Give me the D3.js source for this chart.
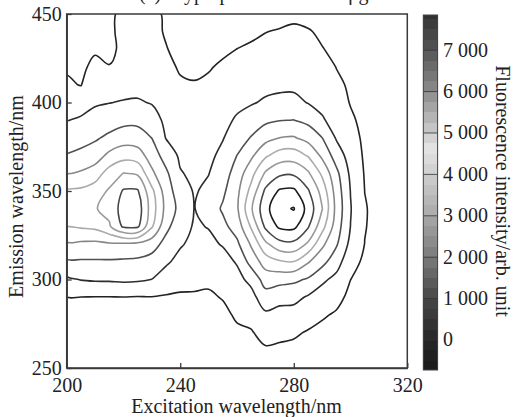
<!DOCTYPE html>
<html><head><meta charset="utf-8">
<script src="https://cdn.jsdelivr.net/npm/d3@7"></script>
<style>
html,body{margin:0;padding:0;background:#fff;}
svg{display:block;}
text{font-family:"Liberation Serif","Times New Roman",serif;fill:#222;}
</style>
</head><body>
<svg id="chart" width="514" height="417"></svg>
<script>
// ---------- data ----------
const chartTitle = "(a) Tryptophan solution 5 \u03bcg/L";
const xTitle = "Excitation wavelength/nm";
const yTitle = "Emission wavelength/nm";
const colorbarTitle = "Fluorescence intensity/arb. unit";

const excitation = [200,205,210,215,220,225,230,235,240,245,250,255,260,265,270,275,280,285,290,295,300,305,310,315,320];
const emission = [450,440,430,420,410,400,390,380,370,360,350,340,330,320,310,300,290,280,270,260,250];

// intensity: one array per excitation wavelength, values from Em 450 down to Em 250
const intensityByExcitation = [
  [200,250,420,440,570,930,1270,1690,2150,2830,3800,4300,3700,2790,1980,1160,490,300,200,150,100],
  [250,300,350,420,480,900,1420,1820,2300,3000,3850,4350,3800,2750,2000,1330,490,300,200,150,100],
  [250,320,450,600,920,1210,1590,2000,2510,3300,4100,4450,3900,2710,2010,1390,480,300,200,150,100],
  [300,400,380,520,910,1280,1730,2260,3100,4040,4600,4750,4400,2800,2000,1400,480,300,220,150,100],
  [750,650,620,700,1000,1350,1870,2520,3400,4520,5380,5650,5420,2770,1970,1450,490,320,230,160,100],
  [720,680,650,750,1050,1380,1890,2480,3270,4390,5380,5750,5450,2700,1940,1410,460,320,230,160,100],
  [650,620,600,680,950,1250,1665,2090,2530,3060,3900,4100,3800,2430,1790,1290,480,320,230,160,110],
  [420,460,520,620,815,970,1120,1270,1757,2250,2500,2650,2300,1850,1420,927,430,300,230,160,110],
  [300,330,380,450,560,720,870,1020,1180,1350,1650,1850,1650,1380,1060,700,420,300,230,160,110],
  [280,320,370,440,520,700,820,950,1080,1150,1240,1280,1220,1100,950,650,430,300,230,160,110],
  [250,300,380,470,570,720,850,980,1120,1280,1450,1650,1330,1150,950,620,400,290,220,160,110],
  [250,330,430,560,780,980,1120,1260,1500,1720,1950,2200,1890,1350,1050,800,540,330,240,170,120],
  [250,380,505,640,920,1150,1380,1720,2110,2450,2700,2780,2450,1940,1360,1080,840,600,380,250,150],
  [260,420,560,800,1020,1240,1650,2150,2750,3420,3950,4400,3800,3000,2400,1500,1050,750,440,280,160],
  [300,490,620,906,1120,1388,1940,2630,3570,4600,5450,5850,5450,4320,3250,2460,1750,1163,770,400,200],
  [320,540,660,950,1150,1478,2070,2910,4067,5130,6200,6700,6250,5040,3596,2367,1540,1049,690,350,180],
  [400,580,700,970,1160,1485,2110,2970,4118,5170,6250,6950,6300,5096,3680,2264,1510,1010,600,320,170],
  [330,540,650,900,1090,1270,1900,2630,3642,4628,5400,5830,5400,4377,2970,2010,1220,820,440,260,150],
  [280,420,520,720,920,1120,1373,2110,2740,3550,4200,4530,4000,3070,2360,1440,960,580,320,200,130],
  [220,300,400,490,600,850,1040,1230,1736,2300,2550,2660,2500,2200,1608,1100,710,420,260,170,120],
  [180,230,290,360,430,460,620,800,960,1150,1280,1340,1290,1080,800,505,330,220,160,120,90],
  [140,170,200,220,240,250,300,350,400,450,495,540,530,490,350,250,200,150,120,100,80],
  [110,130,150,170,190,200,220,240,260,280,300,320,310,280,220,170,130,110,90,80,70],
  [80,90,100,120,130,140,150,170,180,190,200,210,200,180,150,120,100,80,70,60,50],
  [60,70,80,90,100,100,110,120,130,140,140,150,140,130,110,90,70,60,50,50,40]
];

const contourLevels = [500,1300,2100,2900,3700,4500,5300,6100,6900];
const xTicks = [200,240,280,320];
const yTicks = [250,300,350,400,450];
const colorbarTicks = [0,1000,2000,3000,4000,5000,6000,7000];
const colorbarDomain = [-725,7850];

// ---------- layout ----------
const svg = d3.select("#chart");
const plot = {left:66.7, right:407.3, top:14, bottom:368};
const x = d3.scaleLinear().domain([200,320]).range([plot.left, plot.right]);
const y = d3.scaleLinear().domain([250,450]).range([plot.bottom, plot.top]);

svg.append("rect").attr("width",514).attr("height",417).attr("fill","#fff");

// title (cut by the top edge, as in the original)
svg.append("text").attr("x",139).attr("y",0).attr("font-size",20).text(chartTitle);

svg.append("defs").append("clipPath").attr("id","plotClip")
  .append("rect").attr("x",plot.left).attr("y",plot.top)
  .attr("width",plot.right-plot.left).attr("height",plot.bottom-plot.top);

// ---------- contours ----------
const nx = excitation.length, ny = emission.length;
const grid = new Array(nx*ny);
for (let j=0;j<ny;j++) for (let i=0;i<nx;i++) grid[j*nx+i] = intensityByExcitation[i][j];
const exStep = excitation[1]-excitation[0];
const emStep = emission[1]-emission[0];
const contours = d3.contours().size([nx,ny]).thresholds(contourLevels)(grid);
const toXY = p => [x(excitation[0]+(p[0]-0.5)*exStep), y(emission[0]+(p[1]-0.5)*emStep)];
const ringLine = d3.line().curve(d3.curveCatmullRomClosed.alpha(0.5));
const contourPath = c => c.coordinates
  .flatMap(poly => poly.map(ring => ringLine(ring.slice(0,-1).map(toXY)))).join("");
const lineGray = d3.scaleLinear().domain(contourLevels)
  .range(["#232323","#2c2c2c","#505050","#868686","#ababab","#9a9a9a","#474747","#1c1c1c","#1c1c1c"]);

svg.append("g").attr("clip-path","url(#plotClip)")
  .selectAll("path").data(contours).join("path")
  .attr("d",contourPath).attr("fill","none")
  .attr("stroke",d=>lineGray(d.value)).attr("stroke-width",1.6)
  .attr("stroke-linejoin","round");

// ---------- frame & axes ----------
svg.append("rect").attr("x",plot.left).attr("y",plot.top)
  .attr("width",plot.right-plot.left).attr("height",plot.bottom-plot.top)
  .attr("fill","none").attr("stroke","#3a3a3a").attr("stroke-width",1.5);

const xAxis = svg.append("g").attr("transform",`translate(0,${plot.bottom})`)
  .call(d3.axisBottom(x).tickValues(xTicks).tickSizeInner(-5).tickSizeOuter(0).tickPadding(10));
const yAxis = svg.append("g").attr("transform",`translate(${plot.left},0)`)
  .call(d3.axisLeft(y).tickValues(yTicks).tickSizeInner(-5).tickSizeOuter(0).tickPadding(5));
[xAxis,yAxis].forEach(a=>{
  a.select(".domain").attr("stroke","#3a3a3a").attr("stroke-width",1.5);
  a.selectAll(".tick line").attr("stroke","#3a3a3a").attr("stroke-width",1.3);
  a.selectAll(".tick text").attr("font-family","Liberation Serif, serif").attr("font-size",20).attr("fill","#222");
});

svg.append("text").attr("x",236.5).attr("y",413).attr("text-anchor","middle")
  .attr("font-size",20).text(xTitle);
svg.append("text").attr("transform","translate(23,196.5) rotate(-90)").attr("text-anchor","middle")
  .attr("font-size",20).text(yTitle);

// ---------- colorbar ----------
const cb = {x:423.3, w:14.3};
const cbY = d3.scaleLinear().domain(colorbarDomain).range([370,15]);
const cbColor = d3.scaleLinear()
  .domain([-725,0,1000,2000,3000,4000,4600,5000,6000,7000,7850])
  .range(["#191919","#262626","#474747","#7a7a7a","#a9a9a9","#cdcdcd","#e3e3e3","#cccccc","#8c8c8c","#555555","#333333"]);
const bandStep = 250;
const bands = d3.range(Math.floor(colorbarDomain[0]/bandStep)*bandStep, colorbarDomain[1], bandStep);
const cbG = svg.append("g");
cbG.selectAll("rect.band").data(bands).join("rect").attr("class","band")
  .attr("x",cb.x).attr("width",cb.w)
  .attr("y",d=>cbY(Math.min(d+bandStep,colorbarDomain[1])))
  .attr("height",d=>cbY(Math.max(d,colorbarDomain[0]))-cbY(Math.min(d+bandStep,colorbarDomain[1])))
  .attr("fill",d=>cbColor(Math.max(d,colorbarDomain[0])+bandStep/2))
  .attr("shape-rendering","crispEdges");
cbG.selectAll("line.cbtick").data(colorbarTicks).join("line").attr("class","cbtick")
  .attr("x1",cb.x).attr("x2",cb.x+cb.w).attr("y1",d=>cbY(d)).attr("y2",d=>cbY(d))
  .attr("stroke","#333").attr("stroke-width",0.8);
cbG.append("rect").attr("x",cb.x).attr("y",cbY(colorbarDomain[1])).attr("width",cb.w)
  .attr("height",cbY(colorbarDomain[0])-cbY(colorbarDomain[1]))
  .attr("fill","none").attr("stroke","#444").attr("stroke-width",1);
const fmt = v => d3.format(",")(v).replace(/,/g," ");
cbG.selectAll("text.cblab").data(colorbarTicks).join("text").attr("class","cblab")
  .attr("x",443).attr("y",d=>cbY(d)+6.5).attr("font-size",20).text(fmt);
svg.append("text").attr("transform","translate(496,191) rotate(90)").attr("text-anchor","middle")
  .attr("font-size",20).text(colorbarTitle);
</script>
</body></html>
